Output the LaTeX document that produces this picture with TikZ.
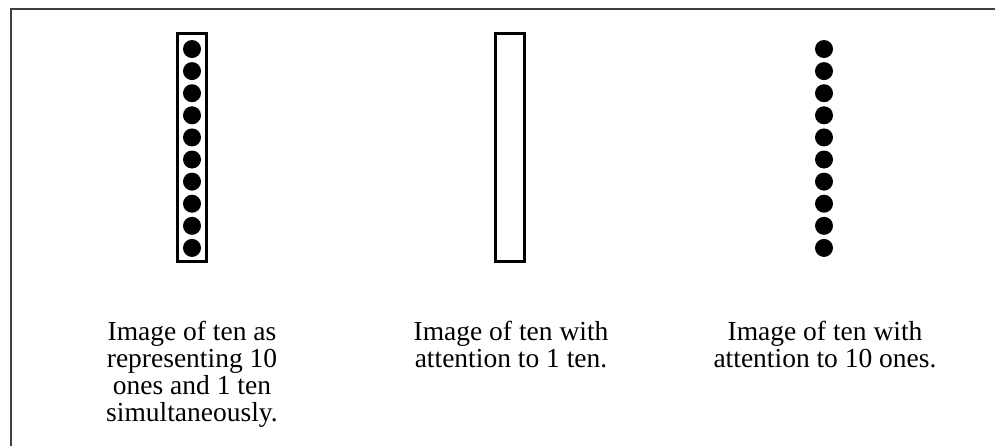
\documentclass[tikz,border=0pt]{standalone}
\usepackage{fontspec}
\setmainfont{Liberation Serif}
\usetikzlibrary{positioning}
\tikzset{
  tenbar/.style={draw, line width=3pt, minimum width=29pt, minimum height=228pt, inner sep=0pt},
  unitdot/.style={circle, fill=black, minimum size=18pt, inner sep=0pt},
  imgtext/.style={align=center, inner sep=0pt, anchor=north, font=\fontsize{27.5}{27}\selectfont},
}
\begin{document}
\begin{tikzpicture}[x=1pt,y=-1pt]
  \useasboundingbox (0,0) rectangle (995,445);
  % open frame, top and left only
  \coordinate (fbl) at (11,446);
  \coordinate (ftl) at (11,9);
  \coordinate (ftr) at (996,9);
  \draw[line width=2pt, black!75] (fbl) -- (ftl) -- (ftr);
  % the three images
  \node[tenbar] (bar1) at (192,147.5) {};
  \node[tenbar] (bar2) at (510,147.5) {};
  \foreach \i in {0,...,9} {
    \node[unitdot] (d1-\i) at (192,49+22.1*\i) {};
    \node[unitdot] (d3-\i) at (824,49+22.1*\i) {};
  }
  % captions
  \node[imgtext] (cap1) at (192,321) {Image of ten as\\representing 10\\ones and 1 ten\\simultaneously.};
  \node[imgtext] (cap2) at (511,321) {Image of ten with\\attention to 1 ten.};
  \node[imgtext] (cap3) at (825,321) {Image of ten with\\attention to 10 ones.};
\end{tikzpicture}
\end{document}
